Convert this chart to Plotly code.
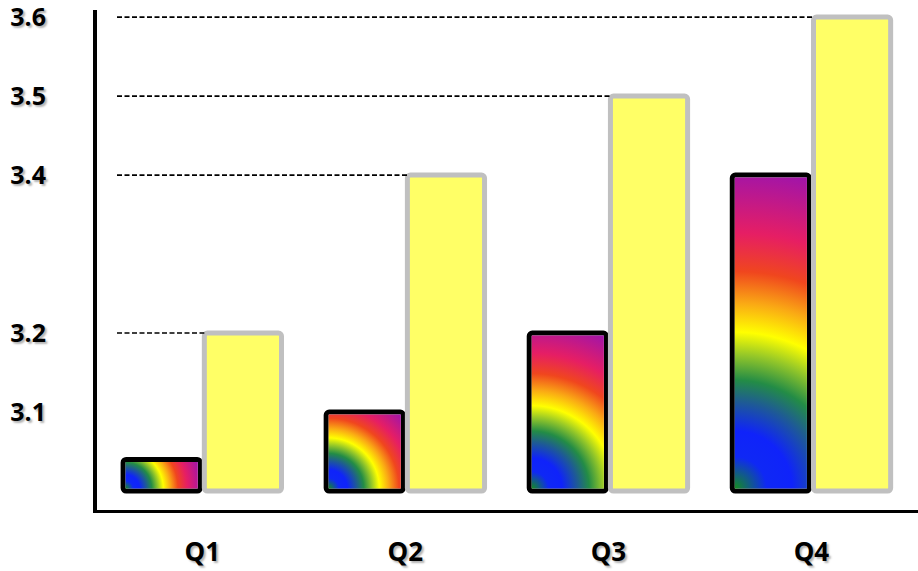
import numpy as np
import plotly.graph_objects as go

# ---------------- data ----------------
categories = ["Q1", "Q2", "Q3", "Q4"]
series_gradient = [3.04, 3.1, 3.2, 3.4]   # rainbow-filled bars
series_yellow = [3.2, 3.4, 3.5, 3.6]      # yellow bars
y_tick_vals = [3.1, 3.2, 3.4, 3.5, 3.6]
y_tick_labels = ["3.1", "3.2", "3.4", "3.5", "3.6"]

# ---------------- layout / style ----------------
W, H = 918, 571
M_L, M_R, M_T, M_B = 97, 0, 10, 61
X_RANGE = [-0.5186, 3.5247]
BASE = 3.0
Y_RANGE = [2.976, 3.609]
BARGAP = 0.2
BARGROUPGAP = 0.05
OUTLINE = 5
DASH_START_PX = 117  # pixel x where the leader lines begin

RAINBOW = [
    [0.0, "rgb(20,140,30)"],
    [0.1, "rgb(15,40,245)"],
    [0.18, "rgb(15,35,250)"],
    [0.27, "rgb(30,90,150)"],
    [0.34, "rgb(35,140,70)"],
    [0.42, "rgb(150,200,40)"],
    [0.49, "rgb(255,255,0)"],
    [0.58, "rgb(250,170,20)"],
    [0.68, "rgb(240,70,30)"],
    [0.8, "rgb(230,30,100)"],
    [1.0, "rgb(160,20,170)"],
]

plot_w = W - M_L - M_R
plot_h = H - M_T - M_B
px_per_x = plot_w / (X_RANGE[1] - X_RANGE[0])
px_per_y = plot_h / (Y_RANGE[1] - Y_RANGE[0])

n = 2
slot = (1 - BARGAP) / n
bar_w = slot * (1 - BARGROUPGAP)
x_idx = np.arange(len(categories))
x_grad = x_idx - slot / 2
x_yel = x_idx + slot / 2

fig = go.Figure()

# gradient bars (outline + transparent fill)
fig.add_trace(go.Bar(
    x=x_idx, y=[v - BASE for v in series_gradient], base=BASE,
    marker=dict(color="rgba(0,0,0,0)", line=dict(color="black", width=OUTLINE), cornerradius=3),
    cliponaxis=False, hoverinfo="skip", showlegend=False,
))
# yellow bars
fig.add_trace(go.Bar(
    x=x_idx, y=[v - BASE for v in series_yellow], base=BASE,
    marker=dict(color="#ffff66", line=dict(color="#c0c0c0", width=OUTLINE), cornerradius=3),
    cliponaxis=False, hoverinfo="skip", showlegend=False,
))

# radial rainbow fills inside the gradient bars
hx = OUTLINE / 2 / px_per_x
hy = OUTLINE / 2 / px_per_y
for i, v in enumerate(series_gradient):
    x0 = x_grad[i] - bar_w / 2 + hx
    x1 = x_grad[i] + bar_w / 2 - hx
    y0 = BASE + hy
    y1 = v - hy
    r_px = np.hypot((x1 - x0) * px_per_x, (y1 - y0) * px_per_y)
    dx = r_px / px_per_x
    dy = r_px / px_per_y
    # second (zero-area) sub-path only widens the fill's bounding box so the
    # radial gradient is centred on the bar's bottom-left corner
    xs = [x0, x1, x1, x0, x0, None, x0 - dx, x0 + dx]
    ys = [y0, y0, y1, y1, y0, None, y0 - dy, y0 + dy]
    fig.add_trace(go.Scatter(
        x=xs, y=ys, mode="lines", line=dict(width=0),
        fill="toself", fillgradient=dict(type="radial", colorscale=RAINBOW),
        hoverinfo="skip", showlegend=False, cliponaxis=False,
    ))

# dashed leader lines from the axis to the top of each yellow bar
dash_x0 = X_RANGE[0] + (DASH_START_PX - M_L) / px_per_x
lx, ly = [], []
for i, v in enumerate(series_yellow):
    lx += [dash_x0, x_yel[i] - bar_w / 2, None]
    ly += [v, v, None]
fig.add_trace(go.Scatter(
    x=lx, y=ly, mode="lines",
    line=dict(color="black", width=1.6, dash="5px,2.5px"),
    hoverinfo="skip", showlegend=False,
))

label_font = dict(family="Open Sans", color="black", weight="bold",
                  shadow="2px 2px 2px rgba(0,0,0,0.3)")

fig.update_layout(
    width=W, height=H,
    margin=dict(l=M_L, r=M_R, t=M_T, b=M_B, pad=0),
    barmode="group", bargap=BARGAP, bargroupgap=BARGROUPGAP,
    plot_bgcolor="white", paper_bgcolor="white",
    showlegend=False,
    xaxis=dict(
        range=X_RANGE, tickmode="array", tickvals=list(x_idx), ticktext=categories,
        showline=True, linecolor="black", linewidth=3, showgrid=False, zeroline=False,
        ticks="", tickfont=dict(size=26, **label_font), ticklabelstandoff=17,
        ticklabeloverflow="allow", fixedrange=True,
    ),
    yaxis=dict(
        range=Y_RANGE, tickmode="array", tickvals=y_tick_vals, ticktext=y_tick_labels,
        showline=True, linecolor="black", linewidth=4, showgrid=False, zeroline=False,
        ticks="", tickfont=dict(size=25, **label_font), ticklabelstandoff=42,
        ticklabeloverflow="allow", fixedrange=True,
    ),
)

fig.write_html(
    "out.html",
    config={"displayModeBar": False},
    post_script="document.body.style.margin='0px';document.body.style.overflow='hidden';",
)
